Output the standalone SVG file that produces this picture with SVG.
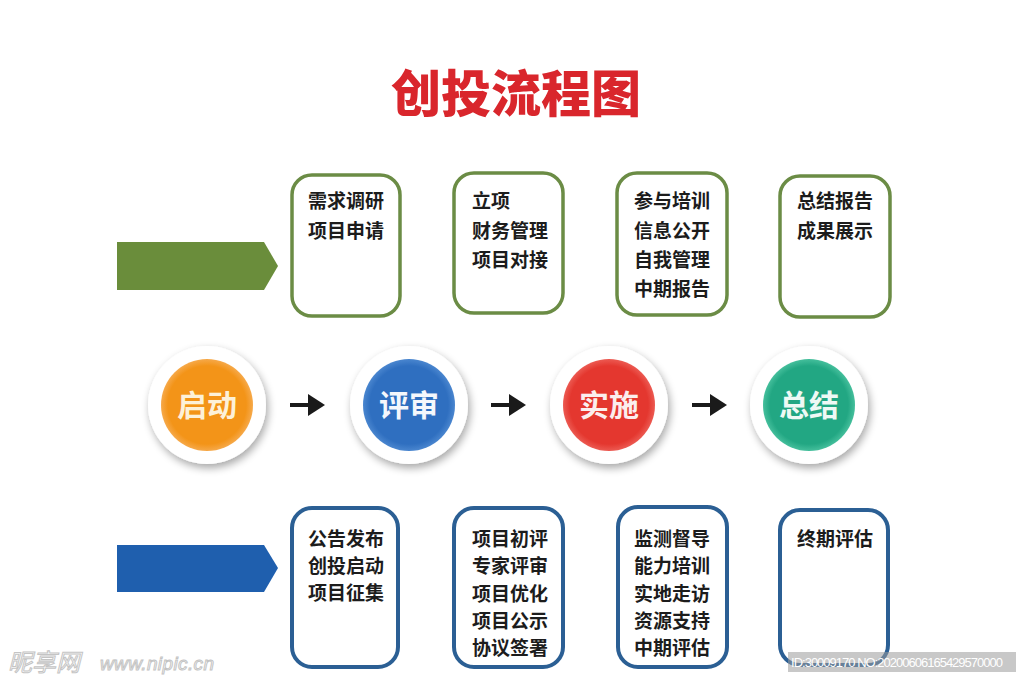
<svg xmlns="http://www.w3.org/2000/svg" width="1024" height="682" viewBox="0 0 1024 682">
  <style>
    .title { font-family: "Noto Sans CJK SC", "Noto Sans", sans-serif; font-weight: 900; font-size: 50px; fill: #d9262c; }
    .item { font-family: "Noto Sans CJK SC", "Noto Sans", sans-serif; font-weight: bold; font-size: 19px; fill: #1c1c1c; }
    .gbox { fill: #ffffff; stroke: #6b8c45; stroke-width: 3.5; }
    .bbox { fill: #ffffff; stroke: #2b5f94; stroke-width: 4; }
    .ring { fill: #ffffff; filter: url(#shadow); }
    .clabel { font-family: "Noto Sans CJK SC", "Noto Sans", sans-serif; font-weight: bold; font-size: 30px; text-anchor: middle; }
    .conn { stroke: #1a1a1a; stroke-width: 4; fill: none; marker-end: url(#head); }
    .wm { font-family: "Liberation Sans", "Noto Sans CJK SC", sans-serif; fill: #ffffff; stroke: #c4c4c4; stroke-width: 1; }
  </style>
  <defs>
    <filter id="shadow" x="-30%" y="-30%" width="160%" height="160%">
      <feGaussianBlur in="SourceAlpha" stdDeviation="4"/>
      <feOffset dx="2" dy="4" result="b"/>
      <feComponentTransfer><feFuncA type="linear" slope="0.35"/></feComponentTransfer>
      <feMerge><feMergeNode/><feMergeNode in="SourceGraphic"/></feMerge>
    </filter>
    <radialGradient id="gOrange" cx="50%" cy="50%" r="50%">
      <stop offset="0.85" stop-color="#f39418"/>
      <stop offset="1" stop-color="#f6a94a"/>
    </radialGradient>
    <radialGradient id="gBlue" cx="50%" cy="50%" r="50%">
      <stop offset="0.85" stop-color="#2f6fc0"/>
      <stop offset="1" stop-color="#4a86cf"/>
    </radialGradient>
    <radialGradient id="gRed" cx="50%" cy="50%" r="50%">
      <stop offset="0.85" stop-color="#e4372f"/>
      <stop offset="1" stop-color="#ec5a52"/>
    </radialGradient>
    <radialGradient id="gGreen" cx="50%" cy="50%" r="50%">
      <stop offset="0.85" stop-color="#22a783"/>
      <stop offset="1" stop-color="#45bf9c"/>
    </radialGradient>
    <marker id="head" markerUnits="userSpaceOnUse" markerWidth="18" markerHeight="22" viewBox="0 0 18 22" refX="2" refY="11" orient="auto">
      <path d="M0,0 L17,11 L0,22 Z" fill="#1a1a1a"/>
    </marker>
  </defs>

  <rect width="1024" height="682" fill="#ffffff"/>

  <g id="title">
    <text class="title" x="516" y="112" text-anchor="middle">创投流程图</text>
  </g>

  <g id="arrow-top">
    <polygon points="117,242 264,242 278,266 264,290 117,290" fill="#6a8d3b"/>
  </g>
  <g id="arrow-bottom">
    <polygon points="117,545 264,545 278,568 264,592 117,592" fill="#1f5fae"/>
  </g>

  <g id="top-box-1">
    <rect class="gbox" x="292" y="175" width="108" height="141" rx="20"/>
    <text class="item" x="308" y="208">需求调研</text>
    <text class="item" x="308" y="238">项目申请</text>
  </g>
  <g id="top-box-2">
    <rect class="gbox" x="454" y="173" width="109" height="140" rx="20"/>
    <text class="item" x="472" y="208">立项</text>
    <text class="item" x="472" y="238">财务管理</text>
    <text class="item" x="472" y="267">项目对接</text>
  </g>
  <g id="top-box-3">
    <rect class="gbox" x="617" y="173" width="110" height="142" rx="20"/>
    <text class="item" x="634" y="208">参与培训</text>
    <text class="item" x="634" y="238">信息公开</text>
    <text class="item" x="634" y="267">自我管理</text>
    <text class="item" x="634" y="296">中期报告</text>
  </g>
  <g id="top-box-4">
    <rect class="gbox" x="780" y="176" width="110" height="141" rx="20"/>
    <text class="item" x="797" y="208">总结报告</text>
    <text class="item" x="797" y="238">成果展示</text>
  </g>

  <g id="node-qidong">
    <circle class="ring" cx="207" cy="405" r="59"/>
    <circle cx="207" cy="405" r="46" fill="url(#gOrange)"/>
    <text class="clabel" x="207" y="416" fill="#fdf1d8">启动</text>
  </g>
  <g id="node-pingshen">
    <circle class="ring" cx="409" cy="405" r="59"/>
    <circle cx="409" cy="405" r="46" fill="url(#gBlue)"/>
    <text class="clabel" x="409" y="416" fill="#f4f7fc">评审</text>
  </g>
  <g id="node-shishi">
    <circle class="ring" cx="609" cy="405" r="59"/>
    <circle cx="609" cy="405" r="46" fill="url(#gRed)"/>
    <text class="clabel" x="609" y="416" fill="#fbeeee">实施</text>
  </g>
  <g id="node-zongjie">
    <circle class="ring" cx="809" cy="405" r="59"/>
    <circle cx="809" cy="405" r="46" fill="url(#gGreen)"/>
    <text class="clabel" x="809" y="416" fill="#eef9f5">总结</text>
  </g>

  <g id="connectors">
    <line class="conn" x1="290" y1="405" x2="310" y2="405"/>
    <line class="conn" x1="491" y1="405" x2="511" y2="405"/>
    <line class="conn" x1="692" y1="405" x2="712" y2="405"/>
  </g>

  <g id="bottom-box-1">
    <rect class="bbox" x="292" y="508" width="106" height="159" rx="20"/>
    <text class="item" x="308" y="546">公告发布</text>
    <text class="item" x="308" y="573">创投启动</text>
    <text class="item" x="308" y="600">项目征集</text>
  </g>
  <g id="bottom-box-2">
    <rect class="bbox" x="454" y="508" width="109" height="159" rx="20"/>
    <text class="item" x="472" y="546">项目初评</text>
    <text class="item" x="472" y="573">专家评审</text>
    <text class="item" x="472" y="601">项目优化</text>
    <text class="item" x="472" y="628">项目公示</text>
    <text class="item" x="472" y="655">协议签署</text>
  </g>
  <g id="bottom-box-3">
    <rect class="bbox" x="618" y="507" width="109" height="160" rx="20"/>
    <text class="item" x="634" y="546">监测督导</text>
    <text class="item" x="634" y="573">能力培训</text>
    <text class="item" x="634" y="601">实地走访</text>
    <text class="item" x="634" y="628">资源支持</text>
    <text class="item" x="634" y="655">中期评估</text>
  </g>
  <g id="bottom-box-4">
    <rect class="bbox" x="780" y="510" width="108" height="155" rx="20"/>
    <text class="item" x="797" y="546">终期评估</text>
  </g>

  <g id="watermark">
    <text class="wm" x="8" y="671" font-size="24" font-style="italic" style="font-family:'Noto Sans CJK SC',sans-serif">昵享网</text>
    <text class="wm" x="100" y="670" font-size="19" font-style="italic" textLength="114">www.nipic.cn</text>
    <rect x="788" y="652" width="228" height="20" fill="#9a9a9a" fill-opacity="0.55"/>
    <text x="791" y="667" font-family="Liberation Sans, sans-serif" font-size="13" fill="#ffffff" textLength="212">ID:30009170 NO:20200606165429570000</text>
  </g>
</svg>
